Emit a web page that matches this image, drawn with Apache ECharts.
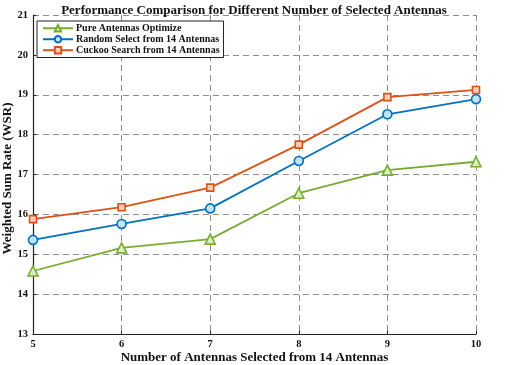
<!DOCTYPE html>
<html>
<head>
<meta charset="utf-8">
<script src="https://cdn.jsdelivr.net/npm/echarts@6/dist/echarts.min.js"></script>
<style>
  html, body { margin: 0; padding: 0; background: #fff; }
  #chart { width: 507px; height: 365px; }
</style>
</head>
<body>
<div id="chart"></div>
<script>
// values
const antennas = [5, 6, 7, 8, 9, 10];
const pureOptimize = [14.58, 15.16, 15.38, 16.53, 17.11, 17.32];
const randomSelect = [15.36, 15.76, 16.15, 17.34, 18.51, 18.89];
const cuckooSearch = [15.88, 16.18, 16.67, 17.75, 18.94, 19.12];

const font = "'Liberation Serif', 'Times New Roman', serif";

function pairs(ys) {
  return antennas.map((x, i) => [x, ys[i]]);
}

function lineSeries(name, ys, color, fill, symbol, size) {
  return {
    name: name,
    type: "line",
    data: pairs(ys),
    symbol: symbol,
    symbolSize: size,
    lineStyle: { color: color, width: 1.8 },
    itemStyle: { color: fill, borderColor: color, borderWidth: 1.6 },
    emphasis: { disabled: true }
  };
}

const chart = echarts.init(document.getElementById("chart"), null, { renderer: "canvas" });

chart.setOption({
  animation: false,
  backgroundColor: "#fff",
  title: {
    text: "Performance Comparison for Different Number of Selected Antennas",
    left: 249,
    textAlign: "center",
    top: -1,
    textStyle: { fontFamily: font, fontWeight: "bold", fontSize: 13, color: "#111" }
  },
  legend: {
    orient: "vertical",
    left: 37,
    top: 21,
    padding: [2, 4, 2, 5],
    itemGap: 0.5,
    itemWidth: 30,
    itemHeight: 8,
    borderColor: "#222",
    borderWidth: 1,
    backgroundColor: "#fff",
    textStyle: { fontFamily: font, fontWeight: "bold", fontSize: 10, lineHeight: 10.5, color: "#111", padding: [0, 0, 0, -2] },
    data: ["Pure Antennas Optimize", "Random Select from 14 Antennas", "Cuckoo Search from 14 Antennas"]
  },
  grid: { left: 33, right: 31, top: 15, bottom: 31, outerBoundsMode: "none" },
  xAxis: {
    type: "value",
    min: 5,
    max: 10,
    interval: 1,
    name: "Number of Antennas Selected from 14 Antennas",
    nameLocation: "middle",
    nameMoveOverlap: false,
    nameGap: 17,
    nameTextStyle: { fontFamily: font, fontWeight: "bold", fontSize: 13, color: "#111" },
    axisLine: { lineStyle: { color: "#222", width: 1.2 } },
    axisTick: { inside: true, length: 3, lineStyle: { color: "#222" } },
    axisLabel: { fontFamily: font, fontWeight: "bold", fontSize: 10.5, color: "#111", margin: 5 },
    splitLine: { show: true, lineStyle: { color: "#8c8c8c", type: [6, 4], width: 1 } }
  },
  yAxis: {
    type: "value",
    min: 13,
    max: 21,
    interval: 1,
    name: "Weighted Sum Rate (WSR)",
    nameLocation: "middle",
    nameMoveOverlap: false,
    nameGap: 19,
    nameTextStyle: { fontFamily: font, fontWeight: "bold", fontSize: 13, color: "#111", padding: [0, 8, 0, 0] },
    axisLine: { show: true, lineStyle: { color: "#222", width: 1.2 } },
    axisTick: { show: true, inside: true, length: 3, lineStyle: { color: "#222" } },
    axisLabel: { fontFamily: font, fontWeight: "bold", fontSize: 10.5, color: "#111", margin: 5 },
    splitLine: { show: true, lineStyle: { color: "#8c8c8c", type: [6, 4], width: 1 } }
  },
  series: [
    lineSeries("Pure Antennas Optimize", pureOptimize, "#77AC30", "#dcefc4", "triangle", 10),
    lineSeries("Random Select from 14 Antennas", randomSelect, "#0072BD", "#c2e4f8", "circle", 9),
    lineSeries("Cuckoo Search from 14 Antennas", cuckooSearch, "#D95319", "#f9cdb8", "rect", 7)
  ]
});
</script>
</body>
</html>
